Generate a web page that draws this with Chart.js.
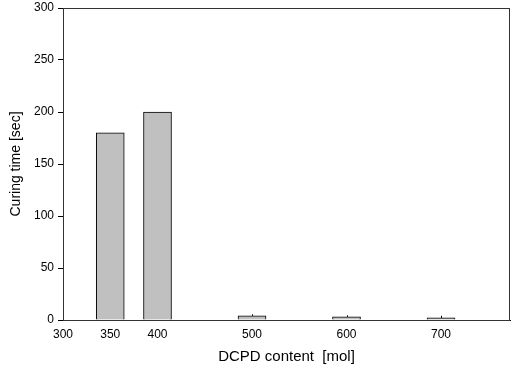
<!DOCTYPE html>
<html>
<head>
<meta charset="utf-8">
<script src="https://cdn.jsdelivr.net/npm/chart.js@4.4.1/dist/chart.umd.min.js"></script>
<style>
  html, body { margin: 0; padding: 0; background: #fff; }
  #wrap { width: 511px; height: 368px; }
</style>
</head>
<body>
<div id="wrap"><canvas id="myChart"></canvas></div>
<script>
const ctx = document.getElementById('myChart');

// DCPD content [mol] and curing time [sec]
const dcpd = [350, 400, 500, 600, 700];
const curingTime = [180, 200, 4, 3, 2];
const curingErr = [0, 0, 1.5, 1.5, 2];
const xTicks = [300, 350, 400, 500, 600, 700];
const yTicks = [0, 50, 100, 150, 200, 250, 300];

const fontFamily = "'Liberation Sans', Arial, sans-serif";

// frame around plot + upper error whiskers
const extras = {
  id: 'extras',
  afterDatasetsDraw(chart) {
    const c = chart.ctx, a = chart.chartArea;
    const xs = chart.scales.x, ys = chart.scales.y;
    c.save();
    c.strokeStyle = '#000';
    c.lineWidth = 1;
    dcpd.forEach((d, i) => {
      if (!curingErr[i]) return;
      const px = Math.round(xs.getPixelForValue(d)) + 0.5;
      c.beginPath();
      c.moveTo(px, ys.getPixelForValue(curingTime[i]));
      c.lineTo(px, ys.getPixelForValue(curingTime[i] + curingErr[i]));
      c.stroke();
    });
    c.strokeStyle = '#333';
    c.strokeRect(a.left + 0.5, a.top + 0.5, a.right - a.left - 1, a.bottom - a.top);
    c.restore();
  }
};

new Chart(ctx, {
  type: 'bar',
  data: {
    datasets: [{
      data: dcpd.map((d, i) => ({ x: d, y: curingTime[i] })),
      backgroundColor: '#c0c0c0',
      borderColor: '#000',
      borderWidth: 1,
      borderSkipped: 'bottom',
      barThickness: 28
    }]
  },
  options: {
    responsive: true,
    maintainAspectRatio: false,
    animation: false,
    layout: { padding: { top: 8, right: 1, left: 0, bottom: 0 } },
    plugins: {
      legend: { display: false },
      tooltip: { enabled: false }
    },
    scales: {
      x: {
        type: 'linear',
        offset: false,
        min: 300,
        max: 773,
        afterBuildTicks: s => { s.ticks = xTicks.map(v => ({ value: v })); },
        afterFit: s => { s.height = 48; },
        grid: { display: false, drawTicks: false, offset: false },
        border: { display: true, color: '#000', width: 1 },
        ticks: {
          color: '#000',
          padding: 7,
          maxRotation: 0,
          autoSkip: false,
          font: { family: fontFamily, size: 12 }
        },
        title: {
          display: true,
          text: 'DCPD content  [mol]',
          color: '#000',
          font: { family: fontFamily, size: 15 },
          padding: { top: 4, bottom: 2 }
        }
      },
      y: {
        min: 0,
        max: 300,
        afterBuildTicks: s => { s.ticks = yTicks.map(v => ({ value: v })); },
        afterFit: s => { s.width = 63; s.paddingTop = 0; s.paddingBottom = 0; },
        grid: { drawOnChartArea: false, drawTicks: true, tickLength: 5, color: '#000' },
        border: { display: true, color: '#000', width: 1 },
        ticks: {
          color: '#000',
          padding: 4,
          font: { family: fontFamily, size: 12 }
        },
        title: {
          display: true,
          text: 'Curing time [sec]',
          color: '#000',
          font: { family: fontFamily, size: 14 },
          padding: { top: 8, bottom: 4 }
        }
      }
    }
  },
  plugins: [extras]
});
</script>
</body>
</html>
